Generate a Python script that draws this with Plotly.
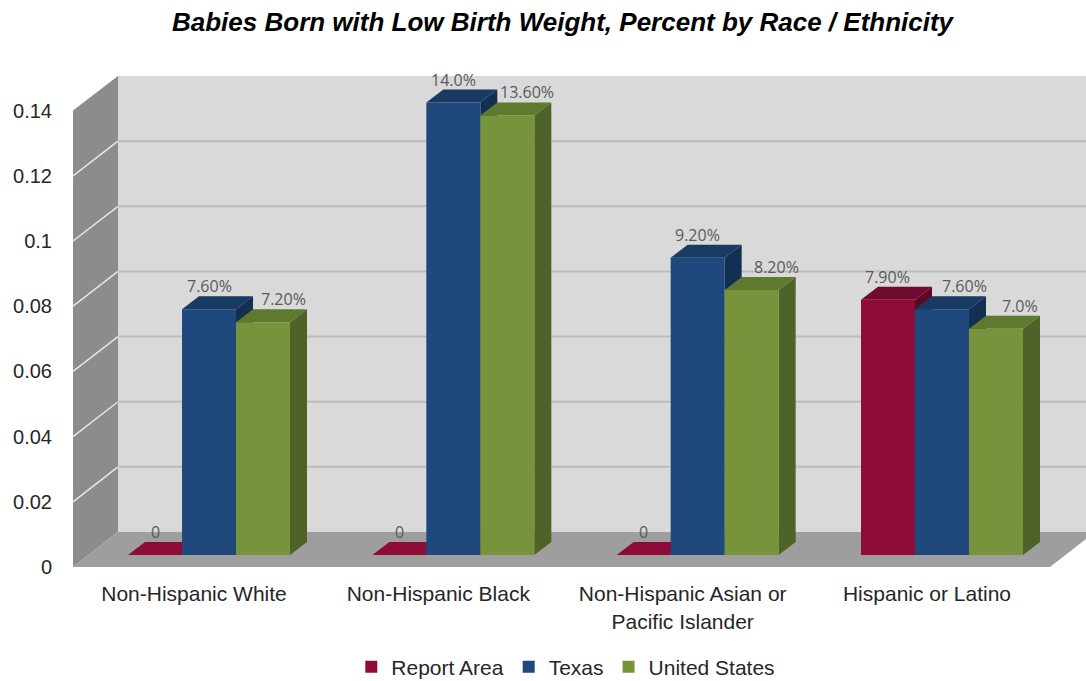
import plotly.graph_objects as go

# ---------------- data ----------------
categories = ["Non-Hispanic White", "Non-Hispanic Black",
              "Non-Hispanic Asian or<br>Pacific Islander", "Hispanic or Latino"]
series_names = ["Report Area", "Texas", "United States"]
report_area = [0.0, 0.0, 0.0, 0.079]
texas = [0.076, 0.14, 0.092, 0.076]
united_states = [0.072, 0.136, 0.082, 0.070]
report_area_labels = ["0", "0", "0", "7.90%"]
texas_labels = ["7.60%", "14.0%", "9.20%", "7.60%"]
united_states_labels = ["7.20%", "13.60%", "8.20%", "7.0%"]
y_tick_values = [0, 0.02, 0.04, 0.06, 0.08, 0.10, 0.12, 0.14]
title_text = "Babies Born with Low Birth Weight, Percent by Race / Ethnicity"

# ---------------- styles / geometry ----------------
W, H = 1086, 681
ML, MR, MT, MB = 73, 0, 60, 111
PW, PH = W - ML - MR, H - MT - MB
PX_PER_CAT = 244.33
PX_PER_UNIT_FRONT = 3260.0
PX_PER_UNIT_BAR = 3232.0
PX_PER_UNIT_BACK = 3257.0
FRONT_ZERO_PX = 567
BAR_ZERO_PX = 555
BACK_ZERO_PX = 532
BACK_LEFT_PX, BACK_RIGHT_PX = 118, 1095
FRONT_LEFT_PX, FRONT_RIGHT_PX = 73, 1050
FIRST_CAT_PX = 209
DEPTH_DX_PX, DEPTH_DY_PX = 17, 13
BAR_W_PX = 54
CAT_LABEL_SHIFT_PX = -15

front_colors = ["#8E0C3A", "#1F497D", "#77933C"]
top_colors = ["#700A2E", "#183A63", "#5E7A2F"]
side_colors = ["#5E0826", "#132F51", "#4F6228"]
label_dx_px = [[0, 0, 20], [0, 0, 20], [0, 0, 25], [0, 23, 24]]

x0 = -(FIRST_CAT_PX - ML) / PX_PER_CAT
x1 = x0 + PW / PX_PER_CAT
bottom_px = MT + PH
y_min = -(bottom_px - FRONT_ZERO_PX) / PX_PER_UNIT_FRONT
y_max = y_min + PH / PX_PER_UNIT_FRONT
y2_min = -(bottom_px - BAR_ZERO_PX) / PX_PER_UNIT_BAR
y2_max = y2_min + PH / PX_PER_UNIT_BAR


def px_x(px):
    return (px - ML) / PW


def px_y(py):
    return (bottom_px - py) / PH


def poly(points, fill, layer="below"):
    path = "M " + " L ".join(f"{px_x(a):.5f},{px_y(b):.5f}" for a, b in points) + " Z"
    return dict(type="path", xref="paper", yref="paper", path=path,
                fillcolor=fill, line=dict(width=0), layer=layer)


shapes = []
# back wall
shapes.append(poly([(BACK_LEFT_PX, BACK_ZERO_PX - 0.14 * PX_PER_UNIT_BACK),
                    (BACK_RIGHT_PX, BACK_ZERO_PX - 0.14 * PX_PER_UNIT_BACK),
                    (BACK_RIGHT_PX, BACK_ZERO_PX), (BACK_LEFT_PX, BACK_ZERO_PX)], "#D9D9D9"))
# side wall
shapes.append(poly([(FRONT_LEFT_PX, FRONT_ZERO_PX - 0.14 * PX_PER_UNIT_FRONT),
                    (BACK_LEFT_PX, BACK_ZERO_PX - 0.14 * PX_PER_UNIT_BACK),
                    (BACK_LEFT_PX, BACK_ZERO_PX), (FRONT_LEFT_PX, FRONT_ZERO_PX)], "#8C8C8C"))
# floor
shapes.append(poly([(BACK_LEFT_PX, BACK_ZERO_PX), (BACK_RIGHT_PX, BACK_ZERO_PX),
                    (FRONT_RIGHT_PX, FRONT_ZERO_PX), (FRONT_LEFT_PX, FRONT_ZERO_PX)], "#9E9E9E"))
# gridlines on back wall and side wall
for v in y_tick_values[1:-1]:
    yb = BACK_ZERO_PX - v * PX_PER_UNIT_BACK
    yf = FRONT_ZERO_PX - v * PX_PER_UNIT_FRONT
    shapes.append(dict(type="line", xref="paper", yref="paper",
                       x0=px_x(BACK_LEFT_PX), x1=px_x(BACK_RIGHT_PX), y0=px_y(yb), y1=px_y(yb),
                       line=dict(color="#BDBDBD", width=2), layer="below"))
    shapes.append(dict(type="line", xref="paper", yref="paper",
                       x0=px_x(FRONT_LEFT_PX), x1=px_x(BACK_LEFT_PX), y0=px_y(yf), y1=px_y(yb),
                       line=dict(color="#E6E6E6", width=1.5), layer="below"))

# 3D faces of bars (data coordinates)
bw = BAR_W_PX / PX_PER_CAT
ddx = DEPTH_DX_PX / PX_PER_CAT
ddy = DEPTH_DY_PX / PX_PER_UNIT_BAR
all_series = [report_area, texas, united_states]
all_labels = [report_area_labels, texas_labels, united_states_labels]
annotations = []
for c in range(len(categories)):
    for s, vals in enumerate(all_series):
        v = vals[c]
        xl = c + (s - 1.5) * bw
        xr = xl + bw
        side = f"M {xr},{0} L {xr},{v} L {xr+ddx},{v+ddy} L {xr+ddx},{ddy} Z"
        top = f"M {xl},{v} L {xl+ddx},{v+ddy} L {xr+ddx},{v+ddy} L {xr},{v} Z"
        if v > 0:
            shapes.append(dict(type="path", xref="x", yref="y2", path=side,
                               fillcolor=side_colors[s], line=dict(width=0), layer="below"))
        shapes.append(dict(type="path", xref="x", yref="y2", path=top,
                           fillcolor=top_colors[s] if v > 0 else front_colors[s],
                           line=dict(width=0), layer="below"))
        annotations.append(dict(x=xl + bw / 2, y=v + ddy, xref="x", yref="y2",
                                text=all_labels[s][c], showarrow=False,
                                xshift=label_dx_px[c][s], yshift=-3, yanchor="bottom",
                                font=dict(family="Open Sans", size=16, color="#595959")))

fig = go.Figure()
# empty trace so that the labelled front-plane value axis is drawn
fig.add_trace(go.Scatter(x=[], y=[], showlegend=False, hoverinfo="skip"))
for s, (name, vals) in enumerate(zip(series_names, all_series)):
    fig.add_trace(go.Bar(x=list(range(len(categories))), y=vals, name=name,
                         marker=dict(color=front_colors[s], line=dict(width=0)),
                         yaxis="y2", hoverinfo="name+y"))

axis_font = dict(family="Liberation Sans", size=20, color="#262626")
fig.update_layout(
    width=W, height=H,
    margin=dict(l=ML, r=MR, t=MT, b=MB),
    paper_bgcolor="white", plot_bgcolor="rgba(0,0,0,0)",
    barmode="group", bargap=1 - 3 * bw, bargroupgap=0,
    title=dict(text=f"<b><i>{title_text}</i></b>", x=0.518, xanchor="center",
               y=1 - 22 / H, yanchor="middle", yref="container",
               font=dict(family="Liberation Sans", size=26, color="#000000")),
    xaxis=dict(range=[x0, x1], tickmode="array",
               tickvals=[i + CAT_LABEL_SHIFT_PX / PX_PER_CAT for i in range(len(categories))],
               ticktext=categories, showgrid=False, zeroline=False, showline=False,
               ticks="outside", ticklen=5, tickcolor="rgba(0,0,0,0)",
               tickfont=dict(family="Liberation Sans", size=21, color="#262626")),
    yaxis=dict(range=[y_min, y_max], tickmode="array", tickvals=y_tick_values,
               ticktext=[f"{v:g}" for v in y_tick_values],
               showgrid=False, zeroline=False, showline=False,
               ticks="outside", ticklen=16, tickcolor="rgba(0,0,0,0)",
               tickfont=axis_font),
    yaxis2=dict(range=[y2_min, y2_max], overlaying="y", visible=False),
    legend=dict(orientation="h", x=0.521, xanchor="center", xref="container",
                y=1 - 667 / H, yanchor="middle", yref="container",
                font=dict(family="Liberation Sans", size=21, color="#262626"),
                itemwidth=30, tracegroupgap=0),
    shapes=shapes, annotations=annotations,
)

fig.write_html("out.html")
